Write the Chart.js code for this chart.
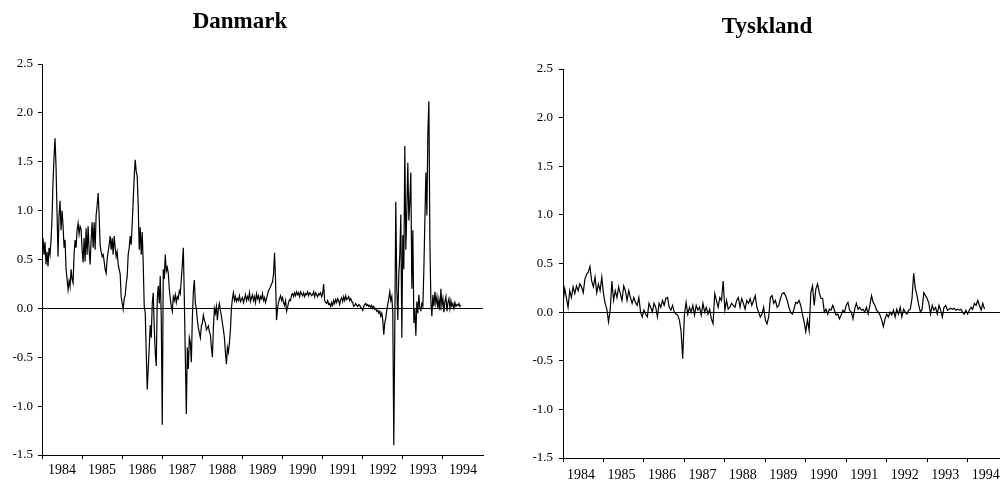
<!DOCTYPE html>
<html>
<head>
<meta charset="utf-8">
<script src="https://cdn.jsdelivr.net/npm/chart.js@4.4.1/dist/chart.umd.min.js"></script>
<style>
  html, body { margin: 0; padding: 0; background: #fff; }
  #wrap { position: relative; width: 1000px; height: 480px; }
  .panel { position: absolute; top: 0; width: 500px; height: 480px; }
  #left  { left: 0; }
  #right { left: 500px; }
</style>
</head>
<body>
<div id="wrap">
  <div class="panel" id="left"><canvas id="dk"></canvas></div>
  <div class="panel" id="right"><canvas id="ty"></canvas></div>
</div>
<script>
// Tick labels
const yearTicks  = [1984, 1985, 1986, 1987, 1988, 1989, 1990, 1991, 1992, 1993, 1994];
const valueTicks = [-1.5, -1.0, -0.5, 0.0, 0.5, 1.0, 1.5, 2.0, 2.5];

// Danmark — one reading every 1/40 year from 1984.0
const dkStart = 1984.0;
const dkStep  = 1 / 40;
const dkValues = [
  0.62, 0.72, 0.55, 0.68, 0.45, 0.58, 0.43, 0.62, 0.55, 0.70,
  0.92, 1.30, 1.55, 1.74, 1.45, 0.98, 0.53, 0.95, 1.10, 0.80,
  1.00, 0.85, 0.62, 0.70, 0.40, 0.30, 0.19, 0.28, 0.22, 0.40,
  0.30, 0.26, 0.55, 0.70, 0.62, 0.80, 0.87, 0.76, 0.84, 0.81,
  0.60, 0.47, 0.72, 0.48, 0.82, 0.55, 0.84, 0.60, 0.45, 0.70,
  0.88, 0.62, 0.88, 0.60, 0.95, 1.05, 1.18, 0.95, 0.65, 0.58,
  0.53, 0.55, 0.48, 0.40, 0.36, 0.50, 0.58, 0.65, 0.74, 0.60,
  0.72, 0.55, 0.74, 0.62, 0.53, 0.58, 0.45, 0.40, 0.35, 0.12,
  0.05, -0.01, 0.10, 0.13, 0.25, 0.33, 0.55, 0.62, 0.74, 0.65,
  0.87, 1.10, 1.35, 1.52, 1.40, 1.35, 1.05, 0.60, 0.83, 0.55,
  0.78, 0.45, 0.02, -0.05, -0.45, -0.83, -0.62, -0.40, -0.17, -0.30,
  0.05, 0.16, -0.20, -0.45, -0.59, 0.10, 0.23, 0.05, 0.33, -0.10,
  -1.19, 0.40, 0.30, 0.55, 0.38, 0.42, 0.36, 0.20, 0.10, 0.02,
  -0.03, 0.12, 0.08, 0.14, 0.06, 0.12, 0.10, 0.18, 0.15, 0.30,
  0.45, 0.62, 0.10, -0.50, -1.08, -0.40, -0.62, -0.30, -0.35, -0.55,
  -0.10, 0.17, 0.29, 0.05, 0.00, -0.12, -0.20, -0.25, -0.30, -0.18,
  -0.15, -0.07, -0.12, -0.15, -0.22, -0.20, -0.18, -0.24, -0.27, -0.40,
  -0.50, -0.20, 0.00, -0.05, 0.02, -0.12, 0.00, 0.05, -0.02, -0.08,
  -0.15, -0.22, -0.30, -0.45, -0.57, -0.40, -0.45, -0.35, -0.22, 0.00,
  0.10, 0.16, 0.08, 0.12, 0.07, 0.10, 0.08, 0.13, 0.07, 0.09,
  0.11, 0.06, 0.10, 0.14, 0.08, 0.12, 0.09, 0.16, 0.07, 0.11,
  0.14, 0.08, 0.12, 0.06, 0.15, 0.10, 0.13, 0.07, 0.12, 0.10,
  0.15, 0.08, 0.11, 0.06, 0.10, 0.14, 0.18, 0.20, 0.22, 0.25,
  0.27, 0.35, 0.57, 0.30, -0.12, 0.00, 0.06, 0.10, 0.13, 0.08,
  0.11, 0.06, 0.03, 0.08, -0.03, 0.01, 0.06, 0.09, 0.08, 0.14,
  0.15, 0.12, 0.16, 0.13, 0.17, 0.14, 0.16, 0.12, 0.17, 0.15,
  0.13, 0.16, 0.12, 0.15, 0.14, 0.17, 0.13, 0.16, 0.15, 0.13,
  0.14, 0.17, 0.12, 0.16, 0.14, 0.12, 0.15, 0.14, 0.16, 0.12,
  0.15, 0.25, 0.08, 0.06, 0.05, 0.08, 0.04, 0.05, 0.02, 0.06,
  0.03, 0.08, 0.05, 0.09, 0.06, 0.10, 0.08, 0.04, 0.09, 0.11,
  0.07, 0.12, 0.08, 0.13, 0.09, 0.10, 0.12, 0.08, 0.10, 0.07,
  0.06, 0.02, 0.03, 0.05, 0.03, 0.02, 0.04, 0.03, 0.01, 0.00,
  -0.02, 0.02, 0.04, 0.05, 0.03, 0.04, 0.02, 0.03, 0.01, 0.03,
  0.00, 0.02, -0.01, 0.00, -0.03, -0.02, -0.05, -0.03, -0.08, -0.05,
  -0.12, -0.27, -0.15, -0.10, -0.02, 0.04, 0.10, 0.17, 0.08, 0.12,
  -0.05, -1.40, -0.20, 1.09, 0.20, -0.12, 0.34, 0.55, 0.96, -0.30,
  0.75, 0.40, 1.66, 0.60, 1.00, 1.49, 0.90, 1.10, 1.39, 0.20,
  0.80, -0.15, 0.00, -0.28, 0.07, -0.05, 0.14, 0.00, -0.02, 0.05,
  0.02, 0.40, 0.90, 1.39, 0.95, 1.80, 2.12, 0.70, 0.07, -0.08,
  0.14, 0.02, 0.17, 0.05, 0.12, 0.00, 0.09, -0.02, 0.20, 0.03,
  0.10, -0.04, 0.07, 0.12, -0.03, 0.06, 0.10, 0.00, 0.08, 0.02,
  0.05, 0.00, 0.06, 0.02, 0.04, 0.03, 0.05, 0.02, 0.03
];

// Tyskland — one reading every 1/24 year from 1984.0
const tyStart = 1984.0;
const tyStep  = 1 / 24;
const tyValues = [
  0.09, 0.24, 0.15, 0.05, 0.22, 0.15, 0.26, 0.19, 0.27, 0.22,
  0.29, 0.26, 0.20, 0.34, 0.39, 0.41, 0.47, 0.32, 0.26, 0.36,
  0.20, 0.29, 0.22, 0.36, 0.19, 0.09, 0.03, -0.10, 0.02,
  0.32, 0.12, 0.22, 0.15, 0.26, 0.19, 0.12, 0.27, 0.22,
  0.12, 0.22, 0.15, 0.09, 0.15, 0.10, 0.07, 0.15, 0.00, -0.05,
  0.02, -0.02, -0.05, 0.09, 0.05, 0.00, 0.09, 0.05, -0.05, 0.09,
  0.05, 0.12, 0.07, 0.14, 0.15, 0.05, 0.02, 0.07, 0.00, -0.02,
  -0.03, -0.08, -0.19, -0.48, -0.03, 0.10, -0.02, 0.05,
  0.00, 0.07, -0.03, 0.07, 0.02, 0.05, -0.03, 0.09, 0.00, 0.05,
  -0.02, 0.03, -0.07, -0.12, 0.19, 0.12, 0.05, 0.15, 0.12,
  0.32, 0.02, 0.12, 0.03, 0.05, 0.09, 0.07, 0.05, 0.12,
  0.15, 0.05, 0.14, 0.09, 0.03, 0.12, 0.09, 0.14, 0.07, 0.12,
  0.17, 0.05, 0.00, -0.05, -0.02, 0.05, -0.08, -0.12, -0.05, 0.15,
  0.17, 0.09, 0.12, 0.05,
  0.07, 0.14, 0.19, 0.20, 0.17, 0.12, 0.05, 0.00, -0.02, 0.03,
  0.10, 0.09, 0.12, 0.07, -0.02,
  -0.10, -0.20, -0.08, -0.19, 0.20, 0.27, 0.07, 0.24, 0.29, 0.20, 0.14,
  0.14, 0.00, 0.03, -0.02, 0.03, 0.02, 0.07, 0.02, -0.03, -0.02,
  -0.07, -0.03, 0.02, 0.00, 0.07, 0.10, 0.02, 0.00, -0.07, 0.03,
  0.09, 0.03, 0.05, 0.02, 0.03, 0.00, 0.05, -0.02, 0.07, 0.17,
  0.10, 0.07, 0.02, 0.00, -0.03, -0.08, -0.15, -0.07, -0.02, -0.05,
  0.00, -0.03, 0.02, -0.05, 0.03, -0.02, 0.05, -0.05, 0.03, 0.00,
  -0.02, 0.02, 0.03,
  0.14, 0.40, 0.24, 0.17, 0.07, 0.00, 0.03, 0.20, 0.17,
  0.14, 0.09, -0.02, 0.07, 0.02, 0.05, -0.02, 0.07, 0.02, -0.05,
  0.05, 0.07, 0.02, 0.03, 0.04, 0.03, 0.04, 0.02, 0.03, 0.02,
  0.03, 0.00, -0.02, 0.02, -0.02, 0.02, 0.05, 0.03, 0.09, 0.07,
  0.12, 0.07, 0.02, 0.09, 0.03
];

const SERIF = '"Liberation Serif", "Times New Roman", serif';
const INK   = '#000';

// Draws the bold panel heading at a fixed spot
const panelTitle = {
  id: 'panelTitle',
  afterDraw(chart, args, opts) {
    const ctx = chart.ctx;
    ctx.save();
    ctx.font = `bold 23px ${SERIF}`;
    ctx.fillStyle = INK;
    ctx.textAlign = 'center';
    ctx.textBaseline = 'alphabetic';
    ctx.fillText(opts.text, opts.x, opts.y);
    ctx.restore();
  }
};

function toPoints(start, step, values) {
  return values.map((v, i) => ({ x: start + i * step, y: v }));
}

function renderPanel(canvasId, p) {
  const ctx = document.getElementById(canvasId).getContext('2d');
  return new Chart(ctx, {
    type: 'line',
    data: {
      datasets: [{
        data:        toPoints(p.start, p.step, p.values),
        borderColor: INK,
        borderWidth: 1.2,
        pointRadius: 0,
        tension:     0,
        fill:        false,
      }],
    },
    options: {
      responsive:          true,
      maintainAspectRatio: false,
      animation:           false,
      layout: { padding: { top: p.top, right: p.right, left: 0, bottom: 0 } },
      plugins: {
        legend:  { display: false },
        tooltip: { enabled: false },
        panelTitle: { text: p.title, x: p.titleX, y: p.titleY },
      },
      scales: {
        x: {
          type: 'linear',
          min:  1984,
          max:  p.xMax,
          afterFit:        s => { s.height = p.xAxisHeight; },
          afterBuildTicks: s => { s.ticks = yearTicks.map(v => ({ value: v })); },
          grid:   { drawOnChartArea: false, tickLength: 4, tickColor: INK },
          border: { display: true, color: INK, width: 1 },
          ticks: {
            autoSkip:    false,
            maxRotation: 0,
            padding:     p.xPad,
            labelOffset: p.labelShift,
            color:       INK,
            font:        { family: SERIF, size: 14 },
            callback:    v => String(v),
          },
        },
        y: {
          type: 'linear',
          min:  -1.5,
          max:  2.5,
          afterFit:        s => { s.width = p.yAxisWidth; },
          afterBuildTicks: s => { s.ticks = valueTicks.map(v => ({ value: v })); },
          grid: {
            drawOnChartArea: true,
            tickLength: 4,
            tickColor:  INK,
            color: c => (c.tick && c.tick.value === 0 ? INK : 'rgba(0,0,0,0)'),
          },
          border: { display: true, color: INK, width: 1 },
          ticks: {
            padding:  p.yPad,
            color:    INK,
            font:     { family: SERIF, size: 13 },
            callback: v => v.toFixed(1),
          },
        },
      },
    },
    plugins: [panelTitle],
  });
}

renderPanel('dk', {
  title: 'Danmark', titleX: 240, titleY: 28,
  start: dkStart, step: dkStep, values: dkValues,
  xMax: 1995, top: 64, right: 17,
  yAxisWidth: 42, xAxisHeight: 25, xPad: 3, yPad: 5, labelShift: 20,
});

renderPanel('ty', {
  title: 'Tyskland', titleX: 267, titleY: 33,
  start: tyStart, step: tyStep, values: tyValues,
  xMax: 1994.8, top: 69, right: 0,
  yAxisWidth: 63, xAxisHeight: 22, xPad: 5, yPad: 6, labelShift: 18,
});
</script>
</body>
</html>
